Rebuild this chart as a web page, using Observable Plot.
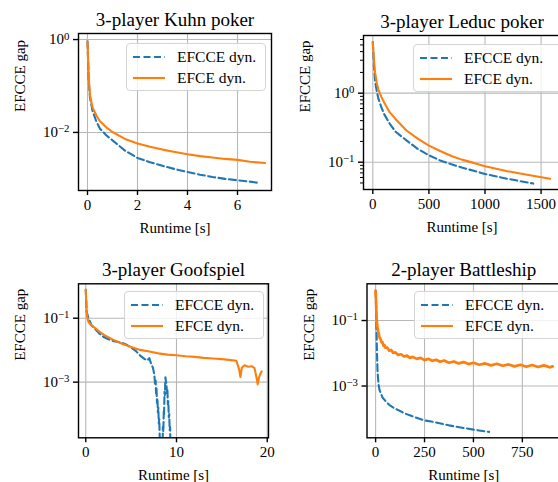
<!DOCTYPE html>
<html><head><meta charset="utf-8">
<script src="https://cdn.jsdelivr.net/npm/d3@7"></script>
<script src="https://cdn.jsdelivr.net/npm/@observablehq/plot@0.6"></script>
<style>
html,body{margin:0;padding:0;background:#fff;}
#fig{position:relative;width:558px;height:482px;overflow:hidden;font-family:"Liberation Serif",serif;}
.panel{position:absolute;}
.panel text{font-family:"Liberation Serif","Times New Roman",serif;}
.legend{position:absolute;box-sizing:border-box;border:1px solid #d4d4d4;border-radius:4px;background:rgba(255,255,255,0.8);}
.legend text{font-family:"Liberation Serif","Times New Roman",serif;font-size:15.5px;fill:#000;}
</style></head><body><div id="fig"></div>
<script>
// ---------------- data ----------------
const seriesNames = ["EFCCE dyn.", "EFCE dyn."];
const titles = ["3-player Kuhn poker", "3-player Leduc poker", "3-player Goofspiel", "2-player Battleship"];
const xLabel = "Runtime [s]";
const yLabel = "EFCCE gap";

// 3-player Kuhn poker
const kuhnEfcceX = [0, 0.05, 0.1, 0.2, 0.35, 0.5, 0.75, 1, 1.5, 2, 2.5, 3, 3.5, 4, 4.5, 5, 5.5, 6, 6.5, 6.9];
const kuhnEfcceY = [0.912, 0.126, 0.0562, 0.0295, 0.0174, 0.0120, 0.00871, 0.00676, 0.00407, 0.00282, 0.00229, 0.00191, 0.00162, 0.00141, 0.00123, 0.0011, 0.001, 0.000933, 0.000871, 0.000813];
const kuhnEfceX = [0, 0.05, 0.1, 0.2, 0.35, 0.5, 0.75, 1, 1.5, 2, 2.5, 3, 3.5, 4, 4.5, 5, 5.5, 6, 6.5, 7.1];
const kuhnEfceY = [0.912, 0.141, 0.0631, 0.0347, 0.0234, 0.0174, 0.0129, 0.0102, 0.00724, 0.00575, 0.0049, 0.00427, 0.0038, 0.00339, 0.00309, 0.00288, 0.00269, 0.00257, 0.00234, 0.00219];
const kuhnXTicks = [0, 2, 4, 6];
const kuhnYTicks = [1, 0.01];

// 3-player Leduc poker
const leducEfcceX = [0, 10, 20, 35, 50, 75, 100, 150, 200, 300, 400, 500, 600, 700, 800, 900, 1000, 1200, 1430];
const leducEfcceY = [5.5, 2.51, 1.51, 1.07, 0.832, 0.631, 0.501, 0.363, 0.279, 0.207, 0.156, 0.126, 0.106, 0.0933, 0.0832, 0.075, 0.0676, 0.0575, 0.049];
const leducEfceX = [0, 10, 20, 35, 50, 75, 100, 150, 200, 300, 400, 500, 600, 700, 800, 900, 1000, 1200, 1400, 1580];
const leducEfceY = [5.5, 3.02, 2.0, 1.41, 1.12, 0.891, 0.741, 0.531, 0.427, 0.288, 0.219, 0.174, 0.145, 0.123, 0.108, 0.0977, 0.0871, 0.0741, 0.0646, 0.0575];
const leducXTicks = [0, 500, 1000, 1500];
const leducYTicks = [1, 0.1];
const leducYMinor = [0.05, 0.06, 0.07, 0.08, 0.09, 0.2, 0.3, 0.4, 0.5, 0.6, 0.7, 0.8, 0.9, 2, 3, 4, 5, 6];

// 3-player Goofspiel
const goofEfcceX = [0, 0.1, 0.3, 0.6, 1, 1.5, 2, 2.5, 3, 3.5, 4, 4.5, 5, 5.5, 6, 6.5, 6.8, 7.0, 7.2, 7.4, 7.55, 7.65, 7.7, 7.75, 7.8, 7.85, 7.9, 7.95, 8.0, 8.05, 8.1, 8.15, 8.2, 8.45, 8.5, 8.55, 8.6, 8.63, 8.68, 8.72, 8.78, 8.85, 8.9, 8.95, 9.0, 9.05, 9.1, 9.15, 9.2, 9.25, 9.3, 9.35];
const goofEfcceY = [0.776, 0.158, 0.1, 0.0631, 0.0468, 0.0331, 0.0257, 0.0219, 0.0195, 0.0182, 0.017, 0.0148, 0.012, 0.00955, 0.00676, 0.00525, 0.00479, 0.00562, 0.0038, 0.00282, 0.00178, 0.000794, 0.00112, 0.000447, 0.000631, 0.000224, 0.000316, 0.000112, 0.000158, 5.0e-5, 7.08e-5, 2.0e-5, 3.16e-6, 3.16e-6, 3.98e-5, 2.82e-5, 0.000126, 0.0001, 0.000501, 0.000398, 0.00141, 0.001, 0.000794, 0.000447, 0.000562, 0.0002, 0.000251, 7.94e-5, 0.0001, 3.16e-5, 3.98e-5, 3.16e-6];
const goofEfceX = [0, 0.07, 0.15, 0.3, 0.6, 1, 1.5, 2, 3, 4, 5, 6, 7, 8, 9, 10, 11, 12, 13, 14, 15, 16, 16.6, 16.9, 17.05, 17.2, 17.5, 17.9, 18.3, 18.6, 18.85, 18.95, 19.1, 19.3, 19.4];
const goofEfceY = [0.776, 0.251, 0.112, 0.0759, 0.0603, 0.0501, 0.038, 0.0302, 0.0214, 0.0158, 0.0126, 0.0102, 0.00912, 0.00794, 0.00724, 0.00692, 0.00646, 0.00617, 0.00575, 0.0055, 0.00525, 0.0049, 0.00468, 0.00251, 0.00145, 0.00282, 0.00339, 0.00302, 0.00316, 0.00275, 0.00126, 0.000851, 0.00141, 0.002, 0.00219];
const goofXTicks = [0, 10, 20];
const goofYTicks = [0.1, 0.001];

// 2-player Battleship
const battleEfcceX = [0, 2, 4, 6, 8, 10, 15, 20, 35, 55, 75, 100, 150, 200, 250, 300, 375, 450, 500, 580];
const battleEfcceY = [0.813, 0.316, 0.0794, 0.02, 0.00631, 0.00282, 0.00112, 0.000759, 0.000447, 0.000324, 0.000251, 0.000204, 0.000145, 0.000112, 8.91e-5, 7.94e-5, 6.31e-5, 5.25e-5, 4.68e-5, 3.98e-5];
const battleEfceX = [0, 2, 4, 6, 8, 10, 13, 16, 20, 25, 30, 35, 40, 45, 50, 60, 70, 80, 90, 100, 115, 130, 145, 160, 175, 190, 210, 230, 250, 270, 290, 310, 330, 350, 375, 400, 425, 450, 475, 500, 530, 560, 590, 620, 650, 680, 710, 740, 770, 800, 830, 860, 890, 905];
const battleEfceY = [0.813, 0.398, 0.178, 0.1, 0.0759, 0.0603, 0.0468, 0.0398, 0.0302, 0.0275, 0.0214, 0.0219, 0.017, 0.0178, 0.0148, 0.0148, 0.012, 0.0126, 0.0102, 0.0107, 0.00891, 0.00933, 0.00794, 0.00851, 0.00724, 0.00776, 0.00676, 0.00724, 0.00617, 0.00676, 0.00589, 0.00631, 0.0055, 0.00603, 0.00513, 0.00562, 0.0049, 0.00537, 0.00468, 0.00513, 0.00447, 0.0049, 0.00427, 0.00479, 0.00417, 0.00457, 0.00398, 0.00447, 0.00389, 0.00437, 0.0038, 0.00427, 0.00372, 0.00398];
const battleXTicks = [0, 250, 500, 750];
const battleYTicks = [0.1, 0.001];

// ---------------- layout / style ----------------
const colors = ["#1f77b4", "#ff7f0e"];
const FONT = '"Liberation Serif", "Times New Roman", serif';

const panels = [
  {title: titles[0], left: 0, top: 0, w: 279, h: 240, ml: 78, mr: 8, mt: 33, mb: 50,
   xDomain: [-0.36, 7.36], yDomain: [5.62e-4, 1.35], xTicks: kuhnXTicks, yTicks: kuhnYTicks,
   a: [kuhnEfcceX, kuhnEfcceY], b: [kuhnEfceX, kuhnEfceY], legend: {x: 126, y: 43, w: 140}},
  {title: titles[1], left: 279, top: 0, w: 290, h: 240, ml: 84, mr: 9, mt: 35, mb: 51,
   xDomain: [-83, 1673], yDomain: [0.0402, 6.85], xTicks: leducXTicks, yTicks: leducYTicks, yMinor: leducYMinor,
   a: [leducEfcceX, leducEfcceY], b: [leducEfceX, leducEfceY], legend: {x: 413, y: 44, w: 150}},
  {title: titles[2], left: 0, top: 240, w: 279, h: 242, ml: 78, mr: 11, mt: 43.3, mb: 44.7,
   xDomain: [-0.8, 20.14], yDomain: [1.82e-5, 1.19], xTicks: goofXTicks, yTicks: goofYTicks,
   a: [goofEfcceX, goofEfcceY], b: [goofEfceX, goofEfceY], legend: {x: 124, y: 291, w: 140}},
  {title: titles[3], left: 279, top: 240, w: 290, h: 242, ml: 87.5, mr: 9, mt: 43.3, mb: 44.7,
   xDomain: [-44, 945], yDomain: [2.63e-5, 1.32], xTicks: battleXTicks, yTicks: battleYTicks,
   a: [battleEfcceX, battleEfcceY], b: [battleEfceX, battleEfceY], legend: {x: 414, y: 291, w: 150}, bWidth: 2.7}
];

const fig = document.getElementById("fig");

function pow10Label(v) {
  const e = Math.round(Math.log10(v));
  return "10^" + String(e).replace("-", "\u2212");
}

function rows(pair) { return pair[0].map((x, i) => ({x, y: pair[1][i]})); }

for (const p of panels) {
  const chart = Plot.plot({
    width: p.w, height: p.h,
    marginLeft: p.ml, marginRight: p.mr, marginTop: p.mt, marginBottom: p.mb,
    style: {fontFamily: FONT, fontSize: "15px", color: "black", background: "transparent", overflow: "visible"},
    x: {domain: p.xDomain},
    y: {type: "log", domain: p.yDomain},
    marks: [
      Plot.gridX(p.xTicks, {stroke: "#b8b8b8", strokeOpacity: 1, strokeWidth: 1.1}),
      Plot.gridY(p.yTicks, {stroke: "#b8b8b8", strokeOpacity: 1, strokeWidth: 1.1}),
      Plot.line(rows(p.a), {x: "x", y: "y", stroke: colors[0], strokeWidth: 2.1, strokeDasharray: "7,3.5", clip: true}),
      Plot.line(rows(p.b), {x: "x", y: "y", stroke: colors[1], strokeWidth: p.bWidth || 2.1, clip: true}),
      Plot.frame({stroke: "black", strokeWidth: 1.4}),
      Plot.axisX(p.xTicks, {tickSize: 5, tickPadding: 4, label: null, fontSize: 15, fontFamily: FONT, strokeWidth: 1.4, tickFormat: d => String(d)}),
      Plot.axisY(p.yTicks, {tickSize: 5, tickPadding: 4, label: null, fontSize: 15, fontFamily: FONT, strokeWidth: 1.4, tickFormat: pow10Label}),
      p.yMinor ? Plot.axisY(p.yMinor, {tickSize: 3, label: null, strokeWidth: 1, tickFormat: () => ""}) : null,
      Plot.text([p.title], {text: d => d, frameAnchor: "top", dy: -8, lineAnchor: "bottom", fontSize: 19, fontFamily: FONT}),
      Plot.text([xLabel], {text: d => d, frameAnchor: "bottom", dy: 42, lineAnchor: "bottom", fontSize: 15, fontFamily: FONT}),
      Plot.text([yLabel], {text: d => d, frameAnchor: "left", dx: -58, rotate: -90, fontSize: 15, fontFamily: FONT})
    ]
  });
  chart.classList.add("panel");
  chart.style.left = p.left + "px";
  chart.style.top = p.top + "px";
  // superscript exponents on log tick labels
  chart.querySelectorAll("text").forEach(t => {
    const s = t.textContent;
    if (s.startsWith("10^") && t.children.length === 0) {
      const exp = s.slice(3);
      t.textContent = "10";
      const ts = document.createElementNS("http://www.w3.org/2000/svg", "tspan");
      ts.setAttribute("dy", "-0.45em");
      ts.setAttribute("font-size", "0.72em");
      ts.textContent = exp;
      t.appendChild(ts);
    }
  });
  fig.appendChild(chart);

  // legend
  const L = p.legend;
  const lg = document.createElement("div");
  lg.className = "legend";
  lg.style.left = L.x + "px"; lg.style.top = L.y + "px";
  lg.style.width = L.w + "px"; lg.style.height = "48px";
  const svgNS = "http://www.w3.org/2000/svg";
  const sv = document.createElementNS(svgNS, "svg");
  sv.setAttribute("width", L.w); sv.setAttribute("height", 46);
  seriesNames.forEach((name, i) => {
    const yy = 13 + i * 21;
    const ln = document.createElementNS(svgNS, "line");
    ln.setAttribute("x1", 6); ln.setAttribute("x2", 38);
    ln.setAttribute("y1", yy); ln.setAttribute("y2", yy);
    ln.setAttribute("stroke", colors[i]); ln.setAttribute("stroke-width", 2.1);
    if (i === 0) ln.setAttribute("stroke-dasharray", "7,3.5");
    sv.appendChild(ln);
    const tx = document.createElementNS(svgNS, "text");
    tx.setAttribute("x", 50); tx.setAttribute("y", yy + 5);
    tx.textContent = name;
    sv.appendChild(tx);
  });
  lg.appendChild(sv);
  fig.appendChild(lg);
}
</script></body></html>
